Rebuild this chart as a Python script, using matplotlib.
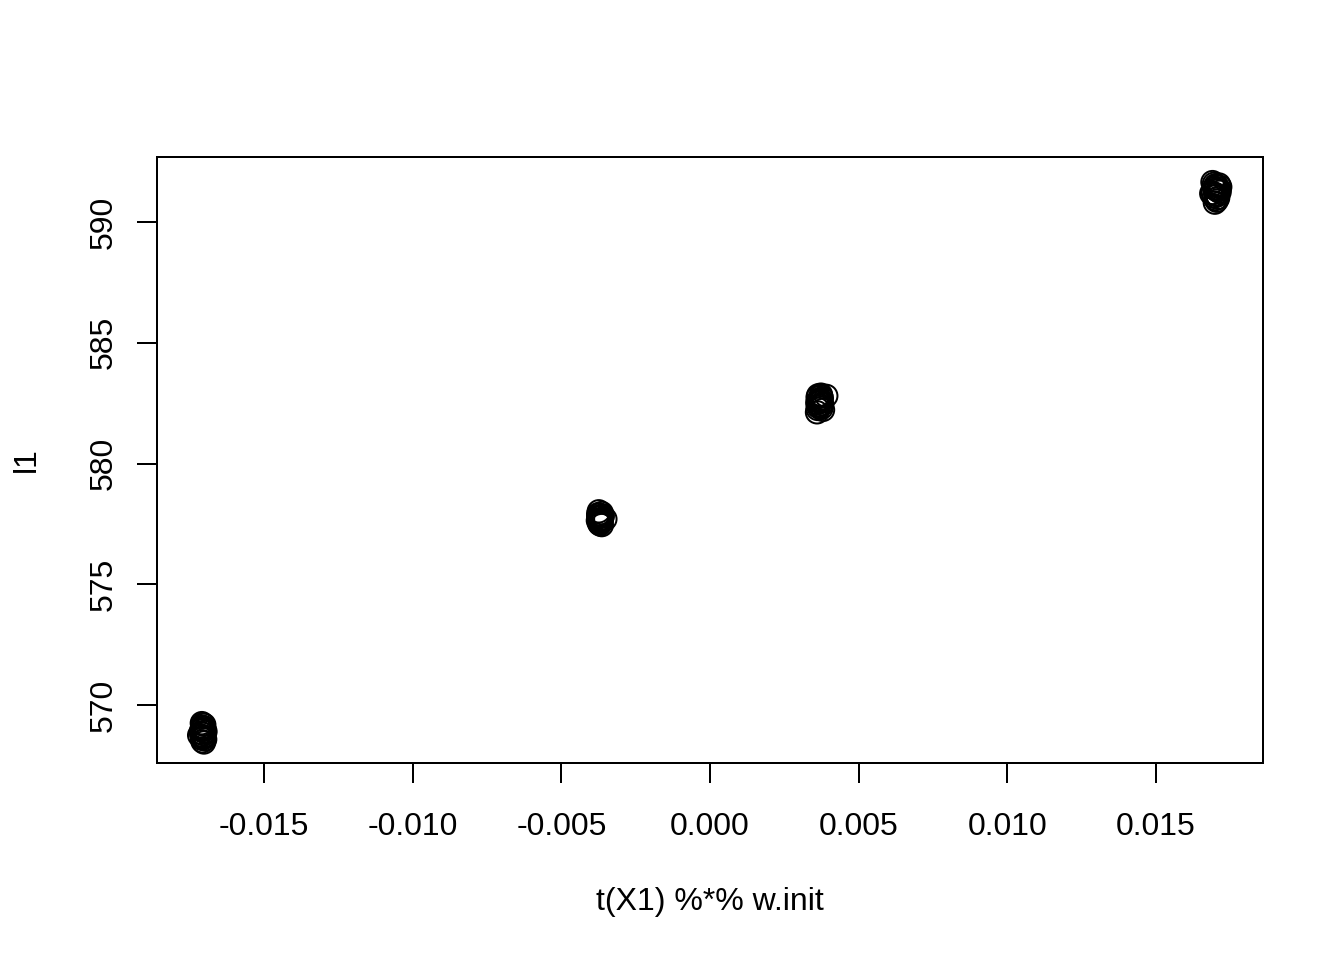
import matplotlib
matplotlib.use("Agg")
import matplotlib.pyplot as plt

# cluster 1
x1 = [-0.01709, -0.01701, -0.01705, -0.01711, -0.01699, -0.01704, -0.01710, -0.01702,
      -0.01698, -0.01707, -0.01705, -0.01700, -0.01712, -0.01703, -0.01708, -0.01718,
      -0.01706, -0.01697, -0.01709, -0.01702]
y1 = [569.25, 569.18, 569.05, 568.95, 568.88, 568.80, 568.72, 568.65, 568.58, 568.50,
      569.10, 568.98, 568.85, 568.70, 568.60, 568.75, 569.20, 568.90, 569.00, 568.45]
# cluster 2
x2 = [-0.00374, -0.00364, -0.00376, -0.00362, -0.00369, -0.00375, -0.00363, -0.00371,
      -0.00377, -0.00365, -0.00368, -0.00373, -0.00352, -0.00370, -0.00364, -0.00372,
      -0.00376, -0.00366, -0.00370, -0.00361]
y2 = [578.02, 577.95, 577.90, 577.85, 577.80, 577.76, 577.72, 577.68, 577.64, 577.60,
      577.56, 577.52, 577.70, 577.48, 577.45, 577.88, 577.78, 577.66, 577.58, 577.83]
# cluster 3
x3 = [0.00364, 0.00374, 0.00362, 0.00376, 0.00369, 0.00373, 0.00363, 0.00371, 0.00361,
      0.00377, 0.00366, 0.00391, 0.00372, 0.00365, 0.00375, 0.00362, 0.00380, 0.00368,
      0.00360, 0.00373]
y3 = [582.82, 582.78, 582.74, 582.70, 582.66, 582.62, 582.58, 582.54, 582.50, 582.46,
      582.42, 582.80, 582.38, 582.34, 582.30, 582.26, 582.22, 582.60, 582.12, 582.85]
# cluster 4
x4 = [0.01690, 0.01695, 0.01700, 0.01705, 0.01712, 0.01696, 0.01702, 0.01708, 0.01714,
      0.01691, 0.01700, 0.01706, 0.01695, 0.01709, 0.01701, 0.01716, 0.01686, 0.01704,
      0.01698, 0.01711]
y4 = [591.65, 591.58, 591.52, 591.48, 591.55, 591.40, 591.35, 591.30, 591.25, 591.20,
      591.15, 591.10, 591.05, 591.00, 590.95, 591.45, 591.18, 590.88, 590.80, 591.38]

xs = x1 + x2 + x3 + x4
ys = y1 + y2 + y3 + y4

xticks = [-0.015, -0.010, -0.005, 0.000, 0.005, 0.010, 0.015]
xticklabels = ["-0.015", "-0.010", "-0.005", "0.000", "0.005", "0.010", "0.015"]
yticks = [570, 575, 580, 585, 590]
yticklabels = ["570", "575", "580", "585", "590"]

plt.rcParams['font.family'] = ['Liberation Sans', 'DejaVu Sans']
fig = plt.figure(figsize=(7, 5), dpi=192)
ax = fig.add_axes([157/1344, 1-763/960, (1263-157)/1344, (763-157)/960])
ax.scatter(xs, ys, s=8.4**2, facecolors='none', edgecolors='black', linewidths=0.75)
ax.set_xlim(-0.018599, 0.018599)
ax.set_ylim(567.60, 592.69)

ax.set_xticks(xticks)
ax.set_xticklabels(xticklabels, fontsize=12)
ax.set_yticks(yticks)
ax.set_yticklabels(yticklabels, fontsize=12, rotation=90, va='center')
ax.tick_params(axis='both', direction='out', length=7.5, width=0.75, color='black')
ax.tick_params(axis='x', pad=11)
ax.tick_params(axis='y', pad=7)
for s in ax.spines.values():
    s.set_linewidth(0.75)

ax.set_xlabel("t(X1) %*% w.init", fontsize=12)
ax.set_ylabel("l1", fontsize=12)
ax.xaxis.set_label_coords(0.5, (763-902)/606)
ax.xaxis.label.set_va('center')
ax.yaxis.set_label_coords((27-157)/1106, 0.5)
ax.yaxis.label.set_va('center')

fig.savefig("out.png", dpi=192)
